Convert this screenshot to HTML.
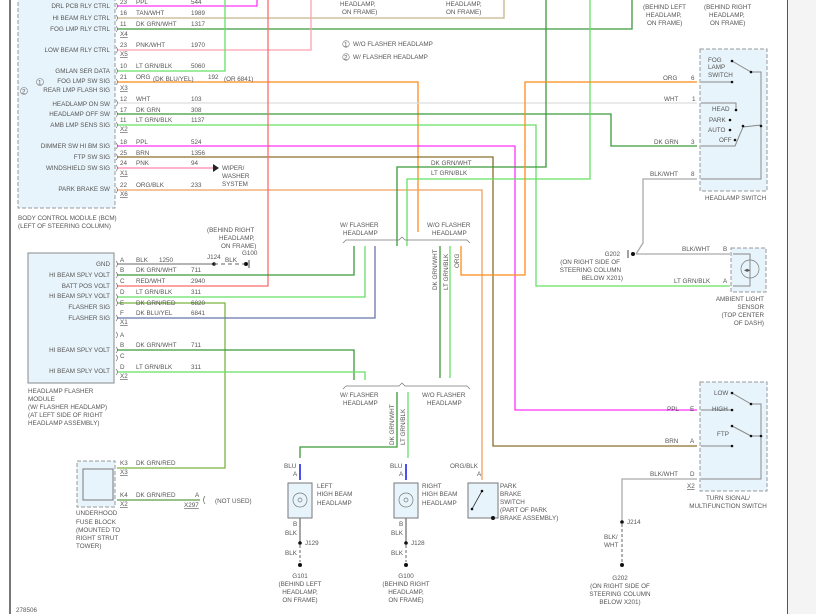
<!DOCTYPE html>
<html><head><meta charset="utf-8"><style>
html,body{margin:0;padding:0;background:#fff}
svg{display:block}
text{font-family:"Liberation Sans",sans-serif;font-size:6.3px;fill:#555}
.r{text-anchor:end}.m{text-anchor:middle}
</style></head><body>
<svg width="816" height="614" viewBox="0 0 816 614" xmlns="http://www.w3.org/2000/svg">
<rect x="788" y="0" width="28" height="614" fill="#f4f4f4"/>
<line x1="10" y1="0" x2="10" y2="614" stroke="#777" stroke-width="2"/>
<line x1="787.5" y1="0" x2="787.5" y2="614" stroke="#555" stroke-width="1"/>

<!-- BCM box -->
<rect x="18" y="-2" width="97" height="210" fill="#e8f4fb" stroke="#999" stroke-dasharray="4,2"/>
<circle cx="24" cy="91" r="3.5" fill="none" stroke="#777" stroke-width="0.6"/><text x="22" y="93.5" font-size="5">2</text>
<circle cx="40" cy="82" r="3.5" fill="none" stroke="#777" stroke-width="0.6"/><text x="38" y="84.5" font-size="5">1</text>
<g class="r">
<text class="r" x="110" y="8">DRL PCB RLY CTRL</text>
<text class="r" x="110" y="20">HI BEAM RLY CTRL</text>
<text class="r" x="110" y="31">FOG LMP RLY CTRL</text>
<text class="r" x="110" y="52">LOW BEAM RLY CTRL</text>
<text class="r" x="110" y="73">GMLAN SER DATA</text>
<text class="r" x="110" y="83">FOG LMP SW SIG</text>
<text class="r" x="110" y="92">REAR LMP FLASH SIG</text>
<text class="r" x="110" y="106">HEADLAMP ON SW</text>
<text class="r" x="110" y="116">HEADLAMP OFF SW</text>
<text class="r" x="110" y="127">AMB LMP SENS SIG</text>
<text class="r" x="110" y="148">DIMMER SW HI BM SIG</text>
<text class="r" x="110" y="159">FTP SW SIG</text>
<text class="r" x="110" y="170">WINDSHIELD SW SIG</text>
<text class="r" x="110" y="191">PARK BRAKE SW</text>
</g>
<text x="18" y="220">BODY CONTROL MODULE (BCM)</text>
<text x="18" y="228">(LEFT OF STEERING COLUMN)</text>

<g fill="none" stroke-width="1.3">
<!-- BCM wires -->
<polyline points="117,6 257,6 257,0" stroke="#ff33ff"/>
<polyline points="117,18 504,18 504,0" stroke="#c8b48c"/>
<polyline points="117,29 632,29 632,0" stroke="#3a9a3a"/>
<polyline points="117,50 311,50 311,0" stroke="#ffa0b0"/>
<polyline points="117,71 225,71 225,0" stroke="#66e066"/>
<polyline points="117,82 418,82 418,232" stroke="#ff8c1a"/>
<polyline points="117,103 697,103" stroke="#ddd"/>
<polyline points="117,114 611,114 611,146 697,146" stroke="#3a9a3a"/>
<polyline points="117,125 536,125 536,286 730,286" stroke="#66e066"/>
<polyline points="117,146 515,146 515,410 697,410" stroke="#ff33ff"/>
<polyline points="117,157 493,157 493,446 697,446" stroke="#8b6d2a"/>
<polyline points="117,168 213,168" stroke="#ff88aa"/>
<polyline points="117,190 482,190 482,480" stroke="#f0a060"/>
<polyline points="268,0 268,286 117,286" stroke="#ff6b6b"/>
<polyline points="546,0 546,167 397,167 397,246" stroke="#3a9a3a"/>
<polyline points="590,0 590,179 407,179 407,246" stroke="#66e066"/>
<polyline points="461,246 461,275 525,275 525,82 697,82" stroke="#ff8c1a"/>
<polyline points="440,246 440,378" stroke="#3a9a3a"/>
<polyline points="450,246 450,378" stroke="#66e066"/>
<!-- flasher module -->
<polyline points="117,264 214,264" stroke="#888"/>
<polyline points="117,275 354,275 354,246" stroke="#3a9a3a"/>
<polyline points="117,297 365,297 365,246" stroke="#66e066"/>
<polyline points="117,303 225,303 225,468 117,468" stroke="#7cb342"/>
<polyline points="117,318 375,318 375,246" stroke="#6677aa"/>
<polyline points="117,350 354,350 354,380" stroke="#3a9a3a"/>
<polyline points="117,372 365,372 365,380" stroke="#66e066"/>
<polyline points="117,500 200,500" stroke="#5a9a40"/>
<polyline points="397,392 397,447 300,447 300,458" stroke="#3a9a3a"/>
<polyline points="408,392 408,458" stroke="#66e066"/>
<polyline points="300,464 300,480" stroke="#2222ee" stroke-width="1.6"/>
<polyline points="406,464 406,480" stroke="#2222ee" stroke-width="1.6"/>
<!-- right side -->
<polyline points="697,179 643,179 643,243 636,254" stroke="#aaa"/>
<polyline points="636,254 730,254" stroke="#aaa"/>
<polyline points="697,479 622,479 622,522" stroke="#aaa"/>
<polyline points="300,518 300,543" stroke="#777"/>
<polyline points="406,518 406,543" stroke="#777"/>
</g>
<polygon points="213,164 219,168 213,172" fill="#222"/>
<text x="222" y="170">WIPER/</text><text x="222" y="178">WASHER</text><text x="222" y="186">SYSTEM</text>

<!-- BCM pin labels -->
<g>
<text x="120" y="4">23</text><text x="136" y="4">PPL</text><text x="191" y="4">544</text>
<text x="120" y="15">16</text><text x="136" y="15">TAN/WHT</text><text x="191" y="15">1989</text>
<text x="120" y="26">11</text><text x="136" y="26">DK GRN/WHT</text><text x="191" y="26">1317</text>
<text x="120" y="36" text-decoration="underline">X4</text>
<text x="120" y="47">23</text><text x="136" y="47">PNK/WHT</text><text x="191" y="47">1970</text>
<text x="120" y="56" text-decoration="underline">X5</text>
<text x="120" y="68">10</text><text x="136" y="68">LT GRN/BLK</text><text x="191" y="68">5060</text>
<text x="120" y="79">21</text><text x="136" y="79">ORG</text><text x="153" y="81">(DK BLU/YEL)</text><text x="208" y="79">192</text><text x="224" y="81">(OR 6841)</text>
<text x="120" y="90" text-decoration="underline">X3</text>
<text x="120" y="101">12</text><text x="136" y="101">WHT</text><text x="191" y="101">103</text>
<text x="120" y="112">17</text><text x="136" y="112">DK GRN</text><text x="191" y="112">308</text>
<text x="120" y="122">11</text><text x="136" y="122">LT GRN/BLK</text><text x="191" y="122">1137</text>
<text x="120" y="131" text-decoration="underline">X2</text>
<text x="120" y="144">18</text><text x="136" y="144">PPL</text><text x="191" y="144">524</text>
<text x="120" y="155">25</text><text x="136" y="155">BRN</text><text x="191" y="155">1356</text>
<text x="120" y="165">24</text><text x="136" y="165">PNK</text><text x="191" y="165">94</text>
<text x="120" y="175" text-decoration="underline">X1</text>
<text x="120" y="187">22</text><text x="136" y="187">ORG/BLK</text><text x="191" y="187">233</text>
<text x="120" y="196" text-decoration="underline">X6</text>
</g>
<g fill="none" stroke="#666" stroke-width="0.6">
<path d="M116,3 q3,3 0,6 M116,15 q3,3 0,6 M116,26 q3,3 0,6 M116,47 q3,3 0,6 M116,68 q3,3 0,6 M116,79 q3,3 0,6 M116,100 q3,3 0,6 M116,111 q3,3 0,6 M116,122 q3,3 0,6 M116,143 q3,3 0,6 M116,154 q3,3 0,6 M116,165 q3,3 0,6 M116,187 q3,3 0,6"/>
<path d="M116,261 q3,3 0,6 M116,272 q3,3 0,6 M116,283 q3,3 0,6 M116,294 q3,3 0,6 M116,300 q3,3 0,6 M116,315 q3,3 0,6 M116,332 q3,3 0,6 M116,347 q3,3 0,6 M116,355 q3,3 0,6 M116,369 q3,3 0,6"/>
</g>

<!-- top notes -->
<text x="340" y="6">HEADLAMP,</text><text x="342" y="14">ON FRAME)</text>
<text x="446" y="6">HEADLAMP,</text><text x="446" y="14">ON FRAME)</text>
<text x="643" y="9">(BEHIND LEFT</text><text x="646" y="17">HEADLAMP,</text><text x="647" y="25">ON FRAME)</text>
<text x="704" y="9">(BEHIND RIGHT</text><text x="709" y="17">HEADLAMP,</text><text x="710" y="25">ON FRAME)</text>
<circle cx="346" cy="44" r="3.3" fill="none" stroke="#777" stroke-width="0.6"/><text x="344" y="46.5" font-size="5">1</text>
<text x="353" y="46">W/O FLASHER HEADLAMP</text>
<circle cx="346" cy="57" r="3.3" fill="none" stroke="#777" stroke-width="0.6"/><text x="344" y="59.5" font-size="5">2</text>
<text x="353" y="59">W/ FLASHER HEADLAMP</text>
<text x="431" y="165">DK GRN/WHT</text><text x="431" y="175">LT GRN/BLK</text>

<!-- brackets -->
<g fill="none" stroke="#777" stroke-width="0.7">
<path d="M343,243 l3,-3 H399 l3,-3 l3,3 H467 l3,3"/>
<path d="M343,389 l3,-3 H399 l3,-3 l3,3 H467 l3,3"/>
</g>
<text x="340" y="227">W/ FLASHER</text><text x="343" y="235">HEADLAMP</text>
<text x="427" y="227">W/O FLASHER</text><text x="432" y="235">HEADLAMP</text>
<text x="340" y="397">W/ FLASHER</text><text x="343" y="405">HEADLAMP</text>
<text x="422" y="397">W/O FLASHER</text><text x="427" y="405">HEADLAMP</text>
<text transform="translate(437,290) rotate(-90)">DK GRN/WHT</text>
<text transform="translate(448,290) rotate(-90)">LT GRN/BLK</text>
<text transform="translate(459,268) rotate(-90)">ORG</text>
<text transform="translate(394,445) rotate(-90)">DK GRN/WHT</text>
<text transform="translate(405,445) rotate(-90)">LT GRN/BLK</text>

<!-- flasher module -->
<rect x="28" y="253" width="86" height="130" fill="#e8f4fb" stroke="#888"/>
<text class="r" x="110" y="266">GND</text>
<text class="r" x="110" y="277">HI BEAM SPLY VOLT</text>
<text class="r" x="110" y="288">BATT POS VOLT</text>
<text class="r" x="110" y="298">HI BEAM SPLY VOLT</text>
<text class="r" x="110" y="309">FLASHER SIG</text>
<text class="r" x="110" y="320">FLASHER SIG</text>
<text class="r" x="110" y="352">HI BEAM SPLY VOLT</text>
<text class="r" x="110" y="373">HI BEAM SPLY VOLT</text>
<text x="28" y="393">HEADLAMP FLASHER</text><text x="28" y="401">MODULE</text><text x="28" y="409">(W/ FLASHER HEADLAMP)</text><text x="28" y="417">(AT LEFT SIDE OF RIGHT</text><text x="28" y="425">HEADLAMP ASSEMBLY)</text>
<text x="120" y="262">A</text><text x="136" y="262">BLK</text><text x="159" y="262">1250</text>
<text x="120" y="272">B</text><text x="136" y="272">DK GRN/WHT</text><text x="191" y="272">711</text>
<text x="120" y="283">C</text><text x="136" y="283">RED/WHT</text><text x="191" y="283">2940</text>
<text x="120" y="294">D</text><text x="136" y="294">LT GRN/BLK</text><text x="191" y="294">311</text>
<text x="120" y="305">E</text><text x="136" y="305">DK GRN/RED</text><text x="191" y="305">6820</text>
<text x="120" y="315">F</text><text x="136" y="315">DK BLU/YEL</text><text x="191" y="315">6841</text>
<text x="120" y="324" text-decoration="underline">X1</text>
<text x="120" y="337">A</text>
<text x="120" y="347">B</text><text x="136" y="347">DK GRN/WHT</text><text x="191" y="347">711</text>
<text x="120" y="358">C</text>
<text x="120" y="369">D</text><text x="136" y="369">LT GRN/BLK</text><text x="191" y="369">311</text>
<text x="120" y="378" text-decoration="underline">X2</text>
<circle cx="214" cy="264" r="1.8" fill="#111"/>
<line x1="214" y1="264" x2="246" y2="264" stroke="#666" stroke-dasharray="4,3"/>
<circle cx="246" cy="264" r="2" fill="#111"/><line x1="249" y1="260" x2="249" y2="268" stroke="#444"/>
<text x="207" y="259">J124</text><text x="225" y="262">BLK</text><text x="242" y="255">G100</text>
<text x="207" y="232">(BEHIND RIGHT</text><text x="219" y="240">HEADLAMP,</text><text x="221" y="248">ON FRAME)</text>

<!-- fuse block -->
<rect x="77" y="461" width="38" height="46" fill="#e8f4fb" stroke="#999" stroke-dasharray="4,2"/>
<rect x="83" y="469" width="30" height="31" fill="none" stroke="#777"/>
<text x="120" y="465">K3</text><text x="136" y="465">DK GRN/RED</text>
<text x="120" y="474" text-decoration="underline">X3</text>
<text x="120" y="497">K4</text><text x="136" y="497">DK GRN/RED</text>
<text x="120" y="506" text-decoration="underline">X2</text>
<text x="195" y="497">A</text><text x="184" y="507" text-decoration="underline">X297</text>
<path d="M205,496 q-3,4 0,8" fill="none" stroke="#666" stroke-width="0.7"/>
<text x="215" y="503">(NOT USED)</text>
<text x="76" y="515">UNDERHOOD</text><text x="76" y="524">FUSE BLOCK</text><text x="76" y="532">(MOUNTED TO</text><text x="76" y="540">RIGHT STRUT</text><text x="76" y="548">TOWER)</text>
<text x="16" y="612">278506</text>

<!-- headlamps -->
<g>
<rect x="288" y="483" width="24" height="35" fill="#e8f4fb" stroke="#777"/>
<circle cx="300" cy="500" r="7" fill="none" stroke="#777" stroke-width="0.7"/><circle cx="300" cy="500" r="2" fill="none" stroke="#777" stroke-width="0.7"/>
<text x="284" y="468">BLU</text><text x="293" y="476">A</text>
<text x="317" y="488">LEFT</text><text x="317" y="496">HIGH BEAM</text><text x="317" y="505">HEADLAMP</text>
<text x="293" y="526">B</text><text x="285" y="535">BLK</text>
<circle cx="300" cy="543" r="1.8" fill="#111"/><text x="305" y="545">J129</text>
<text x="285" y="555">BLK</text>
<line x1="300" y1="545" x2="300" y2="562" stroke="#666" stroke-dasharray="3,2"/>
<circle cx="300" cy="565" r="2" fill="#111"/>
<text class="m" x="300" y="578">G101</text><text class="m" x="300" y="586">(BEHIND LEFT</text><text class="m" x="300" y="594">HEADLAMP,</text><text class="m" x="300" y="602">ON FRAME)</text>

<rect x="394" y="483" width="24" height="35" fill="#e8f4fb" stroke="#777"/>
<circle cx="406" cy="500" r="7" fill="none" stroke="#777" stroke-width="0.7"/><circle cx="406" cy="500" r="2" fill="none" stroke="#777" stroke-width="0.7"/>
<text x="390" y="468">BLU</text><text x="399" y="476">A</text>
<text x="422" y="488">RIGHT</text><text x="422" y="496">HIGH BEAM</text><text x="422" y="505">HEADLAMP</text>
<text x="399" y="526">B</text><text x="391" y="535">BLK</text>
<circle cx="406" cy="543" r="1.8" fill="#111"/><text x="411" y="545">J128</text>
<text x="391" y="555">BLK</text>
<line x1="406" y1="545" x2="406" y2="562" stroke="#666" stroke-dasharray="3,2"/>
<circle cx="406" cy="565" r="2" fill="#111"/>
<text class="m" x="406" y="578">G100</text><text class="m" x="406" y="586">(BEHIND RIGHT</text><text class="m" x="406" y="594">HEADLAMP,</text><text class="m" x="406" y="602">ON FRAME)</text>
</g>

<!-- park brake -->
<rect x="468" y="483" width="30" height="35" fill="#e8f4fb" stroke="#777"/>
<line x1="482" y1="491" x2="472" y2="509" stroke="#333" stroke-width="0.8"/>
<circle cx="482" cy="491" r="1.3" fill="#111"/><circle cx="472" cy="509" r="1.3" fill="#111"/><circle cx="493" cy="518" r="2" fill="#111"/>
<text x="450" y="468">ORG/BLK</text><text x="477" y="476">A</text>
<text x="500" y="488">PARK</text><text x="500" y="496">BRAKE</text><text x="500" y="504">SWITCH</text><text x="500" y="512">(PART OF PARK</text><text x="500" y="520">BRAKE ASSEMBLY)</text>

<!-- headlamp switch -->
<rect x="700" y="49" width="67" height="142" fill="#e8f4fb" stroke="#999" stroke-dasharray="4,2"/>
<text x="708" y="62">FOG</text><text x="708" y="69">LAMP</text><text x="708" y="77">SWITCH</text>
<g stroke="#888" fill="none" stroke-width="1">
<polyline points="701,82 732,82"/><polyline points="701,103 736,103 736,110"/>
<polyline points="701,146 735,146 743,127 761,125"/><polyline points="701,179 761,179 761,72 751,72 732,61"/>
</g>
<g fill="#111"><circle cx="732" cy="61" r="1.3"/><circle cx="751" cy="72" r="1.3"/><circle cx="732" cy="82" r="1.3"/><circle cx="736" cy="110" r="1.3"/><circle cx="730" cy="120" r="1.3"/><circle cx="730" cy="130" r="1.3"/><circle cx="735" cy="140" r="1.3"/><circle cx="743" cy="126" r="1.3"/><circle cx="761" cy="126" r="1.3"/></g>
<text x="712" y="111">HEAD</text><text x="709" y="122">PARK</text><text x="708" y="132">AUTO</text><text x="719" y="142">OFF</text>
<text x="663" y="80">ORG</text><text x="691" y="80" fill="#c33">6</text>
<text x="664" y="101">WHT</text><text x="692" y="101" fill="#c33">1</text>
<text x="654" y="144">DK GRN</text><text x="691" y="144">3</text>
<text x="650" y="176">BLK/WHT</text><text x="691" y="176">8</text>
<text x="705" y="200">HEADLAMP SWITCH</text>

<!-- ambient sensor -->
<rect x="731" y="248" width="35" height="44" fill="#e8f4fb" stroke="#999" stroke-dasharray="4,2"/>
<circle cx="750" cy="269" r="9" fill="none" stroke="#777" stroke-width="0.7"/>
<polyline points="733,254 750,254 750,286 733,286" fill="none" stroke="#888"/>
<text x="744" y="272" font-size="8" fill="#333">◂▸</text>
<text x="682" y="251">BLK/WHT</text><text x="723" y="251">B</text>
<text x="674" y="283">LT GRN/BLK</text><text x="723" y="283">A</text>
<text class="r" x="764" y="301">AMBIENT LIGHT</text><text class="r" x="764" y="309">SENSOR</text><text class="r" x="764" y="317">(TOP CENTER</text><text class="r" x="764" y="325">OF DASH)</text>
<circle cx="633" cy="254" r="2" fill="#111"/><line x1="628" y1="250" x2="628" y2="258" stroke="#444"/>
<text class="r" x="620" y="256">G202</text><text class="r" x="620" y="264">(ON RIGHT SIDE OF</text><text class="r" x="621" y="272">STEERING COLUMN</text><text class="r" x="623" y="280">BELOW X201)</text>

<!-- turn signal switch -->
<rect x="700" y="382" width="67" height="109" fill="#e8f4fb" stroke="#999" stroke-dasharray="4,2"/>
<g stroke="#888" fill="none" stroke-width="1">
<polyline points="701,410 732,410"/><polyline points="701,446 732,446"/>
<polyline points="701,479 761,479 761,404 751,404 732,393"/>
<polyline points="732,426 751,436 761,436"/>
</g>
<g fill="#111"><circle cx="732" cy="393" r="1.3"/><circle cx="751" cy="404" r="1.3"/><circle cx="732" cy="410" r="1.3"/><circle cx="732" cy="426" r="1.3"/><circle cx="751" cy="436" r="1.3"/><circle cx="761" cy="436" r="1.3"/><circle cx="732" cy="446" r="1.3"/></g>
<text x="714" y="395">LOW</text><text x="712" y="411">HIGH</text><text x="717" y="436">FTP</text>
<text x="667" y="411">PPL</text><text x="690" y="411">E</text>
<text x="665" y="443">BRN</text><text x="690" y="443">A</text>
<text x="650" y="476">BLK/WHT</text><text x="690" y="476">D</text>
<text x="687" y="488" text-decoration="underline">X2</text>
<text class="m" x="728" y="500">TURN SIGNAL/</text><text class="m" x="728" y="508">MULTIFUNCTION SWITCH</text>
<circle cx="622" cy="522" r="1.8" fill="#111"/><text x="627" y="524">J214</text>
<line x1="622" y1="524" x2="622" y2="562" stroke="#666" stroke-dasharray="3,2"/>
<circle cx="622" cy="565" r="2" fill="#111"/>
<text x="604" y="539">BLK/</text><text x="604" y="547">WHT</text>
<text class="m" x="620" y="580">G202</text><text class="m" x="620" y="588">(ON RIGHT SIDE OF</text><text class="m" x="620" y="596">STEERING COLUMN</text><text class="m" x="620" y="604">BELOW X201)</text>
</svg>
</body></html>
